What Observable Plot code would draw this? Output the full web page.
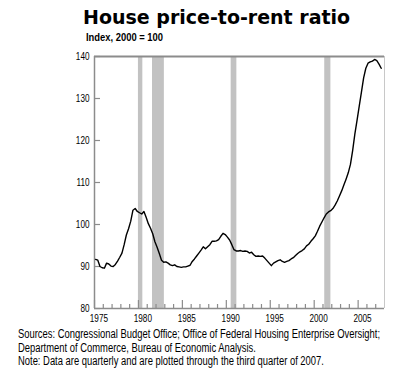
<!DOCTYPE html>
<html>
<head>
<meta charset="utf-8">
<script src="https://cdn.jsdelivr.net/npm/d3@7"></script>
<script src="https://cdn.jsdelivr.net/npm/@observablehq/plot@0.6"></script>
<style>
  html, body { margin: 0; padding: 0; background: #fff; }
  body { width: 403px; height: 389px; overflow: hidden; font-family: "Liberation Sans", Arial, sans-serif; color: #000; }
  #head { position: relative; height: 48px; }
  #title { position: absolute; left: 83px; top: 8px; font: bold 19px/19px "DejaVu Sans", sans-serif; white-space: nowrap; }
  #sub { position: absolute; left: 86px; top: 32px; font-weight: bold; font-size: 11px; line-height: 11px; white-space: nowrap; transform-origin: 0 0; }
  #chart svg { display: block; }
  #foot { margin-top: 3px; padding-left: 18px; font-size: 12px; line-height: 13.5px; white-space: nowrap; }
  #foot div { transform-origin: 0 0; width: max-content; }
</style>
</head>
<body>
<div id="head">
  <div id="title">House price-to-rent ratio</div>
  <div id="sub">Index, 2000 = 100</div>
</div>
<div id="chart"></div>
<div id="foot">
  <div>Sources: Congressional Budget Office; Office of Federal Housing Enterprise Oversight;</div>
  <div>Department of Commerce, Bureau of Economic Analysis.</div>
  <div>Note: Data are quarterly and are plotted through the third quarter of 2007.</div>
</div>
<script>
// Quarterly price-to-rent ratio, 1975Q1 .. 2007Q3
const firstYear = 1975;
const ratio = [
  91.7, 91.5, 90.0, 89.7,   // 1975
  89.6, 90.8, 90.6, 90.1,   // 1976
  90.0, 90.5, 91.3, 92.2,   // 1977
  93.2, 95.2, 97.5, 99.0,   // 1978
  100.8, 103.4, 103.8, 103.1, // 1979
  102.8, 102.5, 103.1, 101.7, // 1980
  100.2, 99.1, 97.8, 95.9,  // 1981
  94.6, 93.1, 91.5, 91.0,   // 1982
  91.1, 90.8, 90.4, 90.2,   // 1983
  90.4, 90.0, 89.9, 89.8,   // 1984
  89.9, 89.9, 90.1, 90.3,   // 1985
  91.2, 91.8, 92.5, 93.2,   // 1986
  93.9, 94.7, 94.2, 94.7,   // 1987
  95.2, 96.0, 96.0, 96.1,   // 1988
  96.4, 97.2, 97.9, 97.6,   // 1989
  97.0, 96.3, 95.2, 94.0,   // 1990
  93.7, 93.7, 93.8, 93.6,   // 1991
  93.7, 93.6, 93.2, 93.4,   // 1992
  92.8, 92.4, 92.5, 92.4,   // 1993
  92.5, 92.0, 91.4, 90.8,   // 1994
  90.2, 90.8, 91.1, 91.4,   // 1995
  91.6, 91.2, 91.0, 91.2,   // 1996
  91.4, 91.8, 92.1, 92.6,   // 1997
  93.1, 93.5, 93.8, 94.2,   // 1998
  94.9, 95.3, 96.0, 96.6,   // 1999
  97.3, 98.4, 99.6, 100.6,  // 2000
  101.6, 102.5, 103.0, 103.3, // 2001
  103.8, 104.6, 105.6, 106.8, // 2002
  108.0, 109.4, 110.8, 112.3, // 2003
  114.3, 117.6, 121.5, 124.8, // 2004
  128.2, 131.5, 134.9, 137.2, // 2005
  138.4, 138.7, 138.9, 139.3, // 2006
  139.0, 138.2, 137.2         // 2007 Q1-Q3
];

// Recessions (shaded bars), in fractional years
const recessionStart = [1980.0, 1981.6, 1990.55, 2001.2];
const recessionEnd   = [1980.5, 1982.95, 1991.2, 2001.9];

// Axis ticks
const yTicks = [80, 90, 100, 110, 120, 130, 140];
const xLabelYears = [1975, 1980, 1985, 1990, 1995, 2000, 2005];
const xMinorYears = [1976,1977,1978,1979,1981,1982,1983,1984,1986,1987,1988,1989,1991,1992,1993,1994,1996,1997,1998,1999,2001,2002,2003,2004,2006,2007];
const xDomain = [1975, 2008];
const yDomain = [80, 140];

const series = ratio.map((v, i) => ({t: firstYear + i / 4 + 0.125, v}));
const recessions = recessionStart.map((s, i) => ({s, e: recessionEnd[i]}));

const W = 403, H = 277;
const mT = 8, mB = 17, mL = 94, mR = 19;
const frameW = W - mL - mR, frameH = H - mT - mB;

const chart = Plot.plot({
  width: W,
  height: H,
  marginTop: mT,
  marginBottom: mB,
  marginLeft: mL,
  marginRight: mR,
  style: {fontFamily: '"Liberation Sans", Arial, sans-serif', fontSize: "10px", color: "#000", background: "#fff"},
  x: {domain: xDomain, axis: null},
  y: {domain: yDomain, axis: null},
  marks: [
    Plot.rect(recessions, {x1: "s", x2: "e", fill: "#c2c2c2"}),
    Plot.ruleX([xDomain[1]], {stroke: "#c8c8c8", strokeWidth: 1}),
    Plot.ruleY([yDomain[1]], {stroke: "#8c8c8c", strokeWidth: 2}),
    Plot.ruleX([xDomain[0]], {stroke: "#8c8c8c", strokeWidth: 1.5}),
    Plot.ruleY([yDomain[0]], {stroke: "#8c8c8c", strokeWidth: 1.5}),
    Plot.ruleY(yTicks, {y: d => d, stroke: "#8c8c8c", strokeWidth: 1.2, insetRight: frameW - 6}),
    Plot.ruleX(xLabelYears, {x: d => d, stroke: "#8c8c8c", strokeWidth: 1.2, insetTop: frameH - 8}),
    Plot.ruleX(xMinorYears, {x: d => d, stroke: "#8c8c8c", strokeWidth: 1.2, insetTop: frameH - 4}),
    Plot.axisY({ticks: yTicks, tickSize: 0, tickPadding: 5, label: null, fill: "#000", fontSize: 10}),
    Plot.text(xLabelYears, {x: d => d + 0.5, frameAnchor: "bottom", dy: 10, text: d => String(d), fill: "#000", fontSize: 10, lineAnchor: "middle"}),
    Plot.line(series, {x: "t", y: "v", stroke: "#000", strokeWidth: 1.4})
  ]
});
document.getElementById("chart").appendChild(chart);

// Emulate the condensed typeface of the original: squeeze texts horizontally
chart.querySelectorAll("text").forEach(t => {
  const tr = t.getAttribute("transform");
  if (tr) t.setAttribute("transform", tr + " scale(0.82,1)");
});
const fit = (el, target) => {
  const w = el.getBoundingClientRect().width;
  el.style.transform = `scaleX(${target / w})`;
};
fit(document.getElementById("sub"), 77);
const lines = document.querySelectorAll("#foot div");
const w0 = lines[0].getBoundingClientRect().width;
const k = 362 / w0;
lines.forEach(l => l.style.transform = `scaleX(${k})`);
</script>
</body>
</html>
